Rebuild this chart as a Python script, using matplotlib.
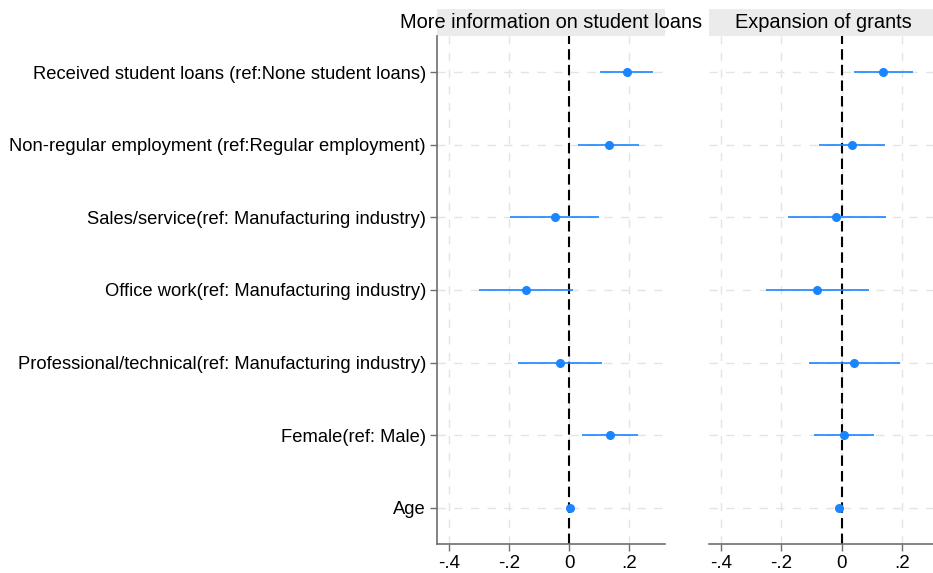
import numpy as np
import matplotlib
matplotlib.use("Agg")
import matplotlib.pyplot as plt
from matplotlib.patches import Rectangle

# labels top to bottom
labels = [
    "Received student loans (ref:None student loans)",
    "Non-regular employment (ref:Regular employment)",
    "Sales/service(ref: Manufacturing industry)",
    "Office work(ref: Manufacturing industry)",
    "Professional/technical(ref: Manufacturing industry)",
    "Female(ref: Male)",
    "Age",
]
panel_titles = ["More information on student loans", "Expansion of grants"]

# coefficients and 95% CI per panel
loans_coef = [0.192, 0.133, -0.048, -0.144, -0.030, 0.136, 0.003]
loans_lo = [0.103, 0.031, -0.197, -0.300, -0.169, 0.042, 0.000]
loans_hi = [0.281, 0.234, 0.101, 0.012, 0.109, 0.229, 0.006]

grants_coef = [0.139, 0.034, -0.017, -0.081, 0.042, 0.008, -0.007]
grants_lo = [0.042, -0.076, -0.179, -0.250, -0.108, -0.092, -0.010]
grants_hi = [0.237, 0.144, 0.147, 0.090, 0.194, 0.109, -0.004]

xticks = [-0.4, -0.2, 0.0, 0.2]
xtick_labels = ["-.4", "-.2", "0", ".2"]

plt.rcParams['font.family'] = ['Liberation Sans', 'DejaVu Sans']

blue = '#1a85ff'
spine_col = '#6e6e6e'
grid_col = '#e4e4e4'

fig = plt.figure(figsize=(9.33, 5.73), dpi=100)
ax1 = fig.add_axes([0.4684, 0.0506, 0.2444, 0.8866])
ax2 = fig.add_axes([0.7599, 0.0506, 0.2455, 0.8866])

panels = [(ax1, loans_coef, loans_lo, loans_hi),
          (ax2, grants_coef, grants_lo, grants_hi)]
ypos = np.arange(len(labels), 0, -1)

for i, (ax, coef, lo, hi) in enumerate(panels):
    coef = np.array(coef)
    ax.set_xlim(-0.44, 0.32)
    ax.set_ylim(0.5, len(labels) + 0.5)
    for x in xticks:
        ax.axvline(x, color=grid_col, lw=1, ls=(0, (6, 6)), zorder=0)
    for y in ypos:
        ax.axhline(y, color=grid_col, lw=1, ls=(0, (6, 6)), zorder=0)
    # zero reference line
    ax.axvline(0, color='black', lw=1.5, ls=(0, (5, 2.5)), zorder=1)
    ax.hlines(ypos, lo, hi, color=blue, lw=1.2, zorder=2)
    ax.plot(coef, ypos, 'o', color=blue, ms=5.5, zorder=3)

    ax.set_xticks(xticks)
    ax.set_xticklabels(xtick_labels, fontsize=13.5)
    ax.set_yticks(ypos)
    ax.spines['top'].set_visible(False)
    ax.spines['right'].set_visible(False)
    ax.spines['bottom'].set_color(spine_col)
    ax.spines['bottom'].set_linewidth(1.2)
    ax.tick_params(axis='both', colors=spine_col, labelcolor='black',
                   length=5, width=1.0, pad=3)
    if i == 0:
        ax.set_yticklabels(labels, fontsize=13.2)
        ax.spines['left'].set_color(spine_col)
        ax.spines['left'].set_linewidth(1.2)
    else:
        ax.set_yticklabels([])
        ax.tick_params(axis='y', length=0)
        ax.spines['left'].set_visible(False)

    # title strip
    ax.add_patch(Rectangle((0, 1.0), 1.0, 27 / 508, transform=ax.transAxes,
                           facecolor='#ebebeb', edgecolor='none',
                           clip_on=False, zorder=0))
    ax.text(0.5, 1.0 + 13.5 / 508, panel_titles[i], transform=ax.transAxes,
            ha='center', va='center', fontsize=14.4, zorder=5)

fig.savefig("out.png", dpi=100)
